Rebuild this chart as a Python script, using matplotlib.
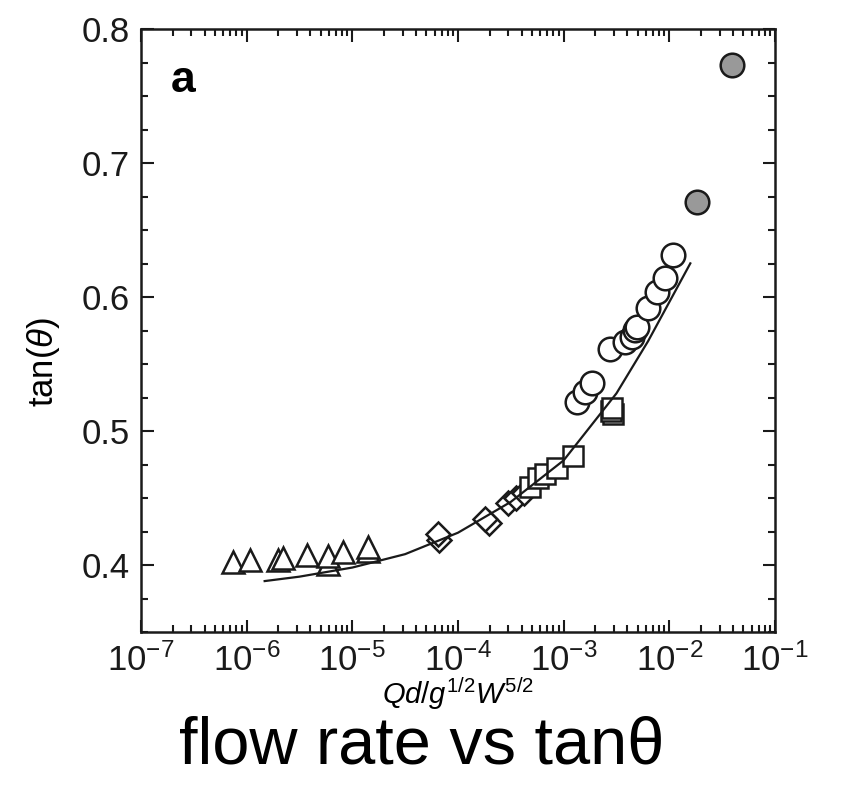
import matplotlib
matplotlib.use("Agg")
import matplotlib.pyplot as plt
from matplotlib.ticker import LogLocator, MultipleLocator, FormatStrFormatter, NullFormatter

plt.rcParams['font.family'] = ['Liberation Sans', 'DejaVu Sans']
plt.rcParams['mathtext.fontset'] = 'custom'
plt.rcParams['mathtext.rm'] = 'Liberation Sans'
plt.rcParams['mathtext.it'] = 'Liberation Sans:italic'
plt.rcParams['mathtext.bf'] = 'Liberation Sans:bold'

# ---- data ----
tri_x = [7.4e-7, 1.08e-6, 2.0e-6, 2.2e-6, 3.7e-6, 5.9e-6, 5.9e-6, 8.2e-6, 1.4e-5, 1.4e-5]
tri_y = [0.402, 0.4037, 0.4037, 0.4052, 0.4075, 0.401, 0.4067, 0.4100, 0.4104, 0.4134]

dia_x = [6.6e-5, 6.5e-5, 1.96e-4, 1.8e-4, 2.97e-4, 3.54e-4, 4.2e-4]
dia_y = [0.4187, 0.4231, 0.4313, 0.4343, 0.4463, 0.450, 0.4537]

sq_x = [4.8e-4, 5.7e-4, 6.65e-4, 8.65e-4, 1.22e-3, 2.93e-3, 2.8e-3, 2.86e-3]
sq_y = [0.4582, 0.4649, 0.4679, 0.4724, 0.4813, 0.5127, 0.515, 0.5172]

circ_x = [1.34e-3, 1.59e-3, 1.85e-3, 2.74e-3, 3.8e-3, 4.44e-3, 4.73e-3, 4.94e-3,
          6.28e-3, 7.64e-3, 9.1e-3, 1.08e-2]
circ_y = [0.5216, 0.5291, 0.5358, 0.5612, 0.5664, 0.5701, 0.5754, 0.5776,
          0.5918, 0.6037, 0.6142, 0.6313]

gray_x = [1.83e-2, 3.92e-2]
gray_y = [0.6709, 0.7731]

line_x = [1.48e-6, 3.16e-6, 1e-5, 3.16e-5, 1e-4, 3.16e-4, 1e-3, 3.16e-3, 6.3e-3, 1.58e-2]
line_y = [0.388, 0.3913, 0.3981, 0.4081, 0.4241, 0.4471, 0.4781, 0.5281, 0.5671, 0.6251]

xticks = [1e-7, 1e-6, 1e-5, 1e-4, 1e-3, 1e-2, 1e-1]
yticks = [0.4, 0.5, 0.6, 0.7, 0.8]

fig = plt.figure(figsize=(8.43, 7.89), dpi=100)
ax = fig.add_axes([141/843, 1-632/789, 634/843, 603/789])

mew = 1.8
common = dict(linestyle='none', markerfacecolor='white', markeredgecolor='#1a1a1a',
              markeredgewidth=mew, zorder=3)
ax.plot(tri_x, tri_y, marker='^', markersize=16, **common)
ax.plot(dia_x, dia_y, marker='D', markersize=12.5, **common)
ax.plot(sq_x, sq_y, marker='s', markersize=14.5, **common)
ax.plot(circ_x, circ_y, marker='o', markersize=17, **common)
ax.plot(gray_x, gray_y, marker='o', markersize=17, linestyle='none',
        markerfacecolor='#999999', markeredgecolor='#1a1a1a', markeredgewidth=mew, zorder=3)
ax.plot(line_x, line_y, color='#1a1a1a', linewidth=1.6, zorder=4)

ax.set_xscale('log')
ax.set_xlim(1e-7, 1e-1)
ax.set_ylim(0.35, 0.8)
ax.set_xticks(xticks)
ax.xaxis.set_minor_locator(LogLocator(base=10, subs=range(2, 10), numticks=20))
ax.xaxis.set_minor_formatter(NullFormatter())
ax.set_yticks(yticks)
ax.yaxis.set_major_formatter(FormatStrFormatter('%.1f'))
ax.yaxis.set_minor_locator(MultipleLocator(0.025))

ax.tick_params(which='both', direction='in', top=True, right=True, width=1.5, colors='#1a1a1a')
ax.tick_params(which='major', length=9, labelsize=25, pad=8)
ax.tick_params(which='minor', length=5)
for s in ax.spines.values():
    s.set_linewidth(1.8)
    s.set_color('#1a1a1a')

ax.set_xlabel(r'$Qd/g^{1/2}W^{5/2}$', fontsize=21, va='baseline')
ax.xaxis.set_label_coords(0.5, -(704 - 632) / 603)
ax.set_ylabel(r'tan($\theta$)', fontsize=25, va='center')
ax.yaxis.set_label_coords((44 - 141) / 634, 1 - (362 - 29) / 603)

ax.text(0.066, 0.915, 'a', transform=ax.transAxes, fontsize=32, fontweight='bold',
        ha='center', va='center')

fig.text(0.5, 1 - 763 / 789, 'flow rate vs tan\u03b8', fontsize=48, ha='center', va='baseline')

fig.savefig('out.png', dpi=100)
